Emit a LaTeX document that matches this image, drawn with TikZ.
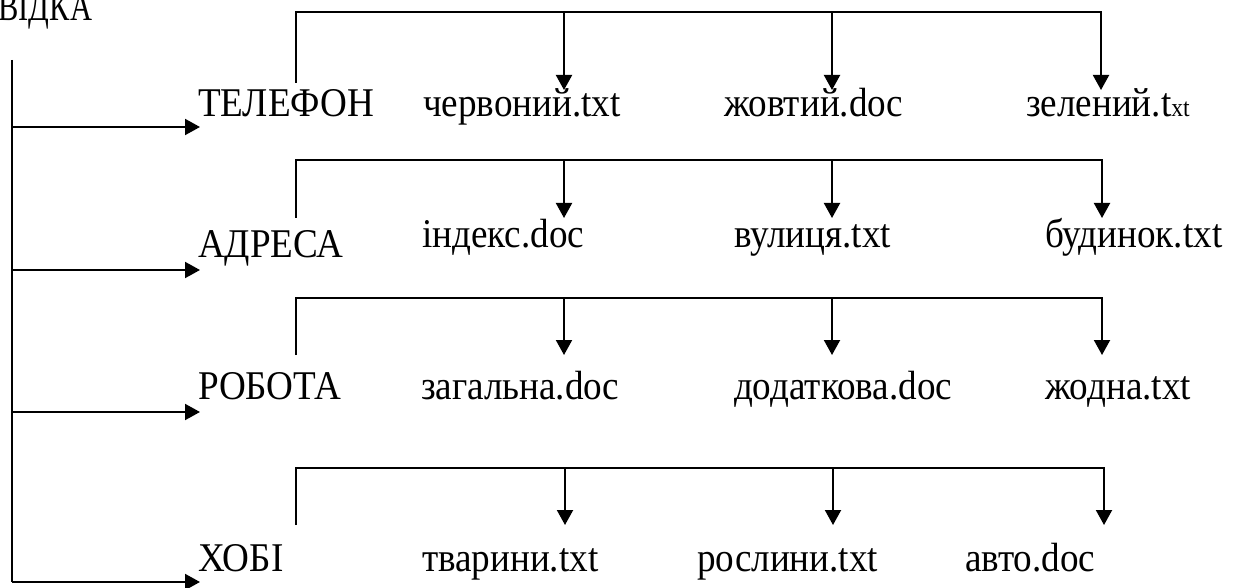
\documentclass[tikz,border=0pt]{standalone}
\usepackage{fontspec}
\usepackage{graphicx}
\setmainfont{Liberation Serif}[FakeStretch=0.91]
\usetikzlibrary{arrows.meta}
\tikzset{
  lbl/.style={anchor=base west, inner sep=0pt, font=\fontsize{20.4}{24}\selectfont},
  tip/.style={-{Triangle[length=7.5pt,width=8pt]}},
}
\begin{document}
\begin{tikzpicture}[x=0.5pt,y=-0.5pt,line width=1pt]
  \useasboundingbox (0,0) rectangle (1236,588);
  \clip (0,0) rectangle (1236,588);
  \node[lbl, anchor=base east] (root) at (93,21) {\scalebox{0.82}[1]{ВІДКА}};
  \coordinate (trunk) at (12,60);
  % folders and arrows from the trunk
  \foreach \n/\name/\fy/\hy in {1/ТЕЛЕФОН/117/127, 2/АДРЕСА/257/270, 3/РОБОТА/399/412, 4/ХОБІ/571/582}{
    \node[lbl] (d\n) at (197,\fy) {\name};
    \coordinate (h\n) at (200,\hy);
    \draw[tip] (trunk |- h\n) -- (h\n);
  }
  \draw (trunk) -- (trunk |- h4);
  % files
  \foreach \n/\k/\x/\ax/\fy/\ty/\name in {
      1/1/422/564/117/90/червоний.txt, 1/2/723/832/117/90/жовтий.doc,
      1/3/1025/1101/117/90/{зелений.t{\fontsize{13}{15}\selectfont xt}},
      2/1/421/564/248/218/індекс.doc, 2/2/733/832/248/218/вулиця.txt,
      2/3/1044/1102/248/218/будинок.txt,
      3/1/420/564/399/355/загальна.doc, 3/2/733/832/399/355/додаткова.doc,
      3/3/1044/1102/399/355/жодна.txt,
      4/1/421/565/571/525/тварини.txt, 4/2/696/833/571/525/рослини.txt,
      4/3/964/1104/571/525/авто.doc}{
    \node[lbl] (f\n\k) at (\x,\fy) {\name};
    \coordinate (a\n\k) at (\ax,\ty);
  }
  % brackets over the files
  \foreach \n/\top/\bot in {1/12/83, 2/160/218, 3/298/355, 4/468/525}{
    \coordinate (b\n) at (296,\top);
    \coordinate (l\n) at (296,\bot);
    \draw[tip] (l\n) -- (b\n) -| (a\n3);
    \draw[tip] (a\n1 |- b\n) -- (a\n1);
    \draw[tip] (a\n2 |- b\n) -- (a\n2);
  }
\end{tikzpicture}
\end{document}
